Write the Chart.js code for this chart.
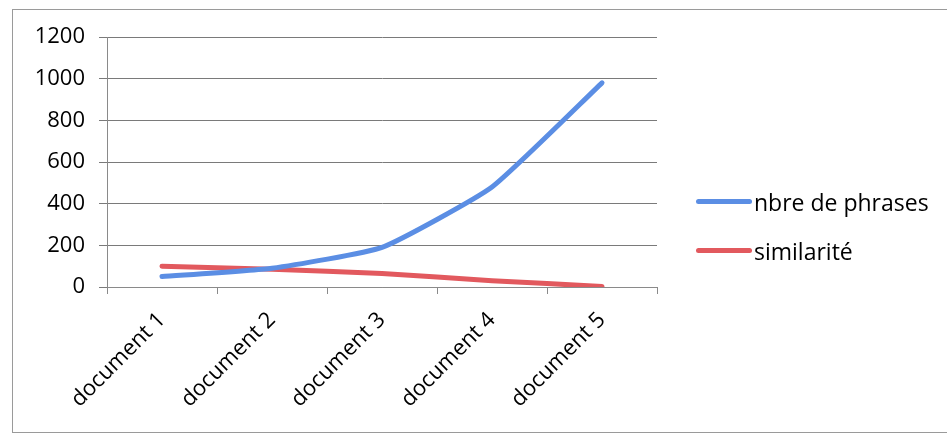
<!DOCTYPE html>
<html>
<head>
<meta charset="utf-8">
<script src="https://cdn.jsdelivr.net/npm/chart.js@4.4.0/dist/chart.umd.min.js"></script>
<style>
  html, body { margin: 0; padding: 0; background: #fff; }
  #wrap { position: relative; width: 947px; height: 434px; overflow: hidden; }
  #frame { position: absolute; left: 12px; top: 9px; width: 960px; height: 422px; border: 1px solid #9a9a9a; }
  #legend { position: absolute; left: 696px; top: 177px; font-family: "Open Sans", "Liberation Sans", sans-serif; font-size: 23px; color: #000; }
  .item { display: flex; align-items: center; height: 49px; }
  .swatch { width: 56px; height: 5px; border-radius: 3px; margin-right: 2px; }
</style>
</head>
<body>
<div id="wrap">
  <div id="frame"></div>
  <canvas id="chart" width="947" height="434"></canvas>
  <div id="legend"></div>
</div>
<script>
// données
const categories = ["document 1", "document 2", "document 3", "document 4", "document 5"];
const nbrePhrases = [50, 90, 190, 480, 980];
const similarite = [100, 85, 65, 30, 3];
const yTicks = [0, 200, 400, 600, 800, 1000, 1200];

const seriesNames = ["nbre de phrases", "similarité"];
const colors = ["#5b8ee4", "#e2595e"];

const ctx = document.getElementById("chart").getContext("2d");
const fontFamily = '"Open Sans", "Liberation Sans", sans-serif';

new Chart(ctx, {
    type: "line",
    data: {
        labels: categories,
        datasets: [
            {
                label: seriesNames[0],
                data: nbrePhrases,
                borderColor: colors[0],
                borderWidth: 5,
                pointRadius: 0,
                tension: 0.15,
                borderCapStyle: "round",
            },
            {
                label: seriesNames[1],
                data: similarite,
                borderColor: colors[1],
                borderWidth: 5,
                pointRadius: 0,
                tension: 0.15,
                borderCapStyle: "round",
            },
        ],
    },
    options: {
        responsive: false,
        animation: false,
        layout: { padding: { left: 20, right: 290, top: 37, bottom: 13 } },
        plugins: {
            legend: { display: false },
            tooltip: { enabled: false },
        },
        scales: {
            x: {
                offset: true,
                grid: { offset: true, drawOnChartArea: false, color: "#8a8a8a", tickLength: 7 },
                border: { color: "#8a8a8a" },
                ticks: {
                    minRotation: 45,
                    maxRotation: 45,
                    padding: 13,
                    color: "#000",
                    font: { family: fontFamily, size: 22 },
                },
                afterFit: (scale) => { scale.height = 134; },
            },
            y: {
                min: 0,
                max: 1200,
                afterBuildTicks: (scale) => { scale.ticks = yTicks.map(v => ({ value: v })); },
                grid: { color: "#7a7a7a", tickLength: 8 },
                border: { color: "#8a8a8a" },
                ticks: {
                    color: "#000",
                    padding: 14,
                    font: { family: fontFamily, size: 22 },
                    callback: (v) => String(v),
                },
                afterFit: (scale) => { scale.width = 87; },
            },
        },
    },
});

// légende à droite
const legend = document.getElementById("legend");
seriesNames.forEach((name, i) => {
    const item = document.createElement("div");
    item.className = "item";
    item.innerHTML = '<span class="swatch" style="background:' + colors[i] + '"></span>' + name;
    legend.appendChild(item);
});
</script>
</body>
</html>
